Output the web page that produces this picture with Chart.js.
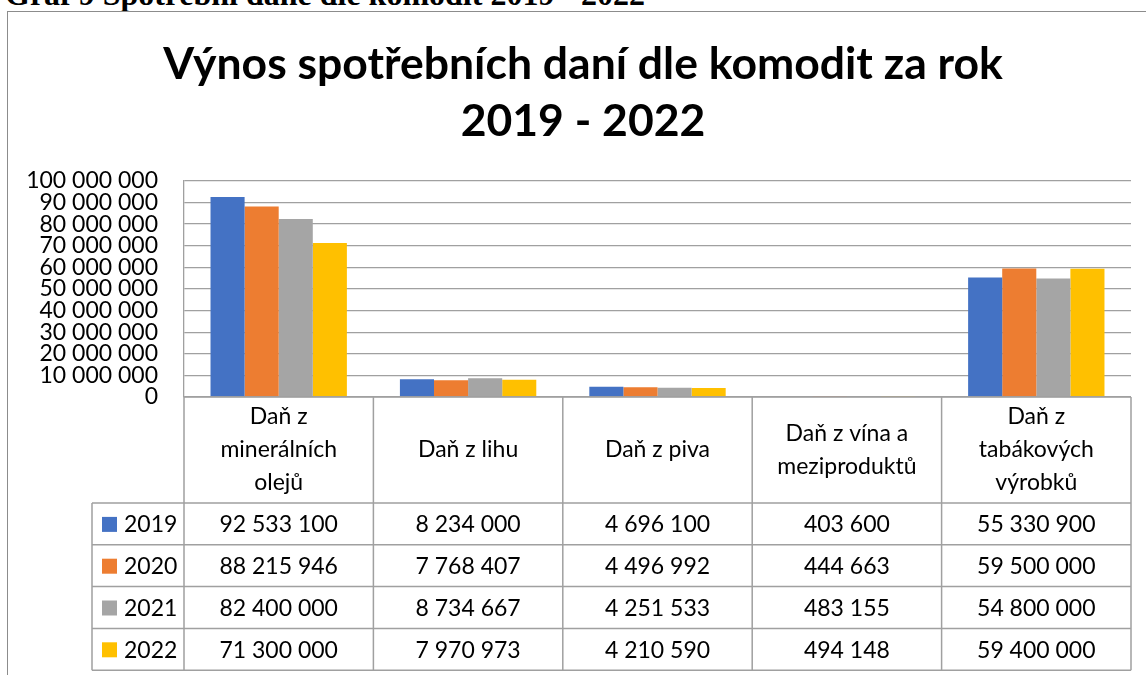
<!DOCTYPE html>
<html lang="cs">
<head>
<meta charset="utf-8">
<script src="https://cdn.jsdelivr.net/npm/chart.js@4.4.1/dist/chart.umd.min.js"></script>
<style>
  html, body { margin: 0; padding: 0; background: #fff; overflow: hidden; }
  body { width: 1146px; height: 675px; position: relative; }
  #cap { position: absolute; left: 5px; top: -22px; font: bold 32px/32px "Liberation Serif", "Times New Roman", serif; white-space: nowrap; color: #000; }
  #frame { position: absolute; left: 7px; top: 11px; width: 1300px; height: 800px; border: 1px solid #8c8c8c; background: #fff; }
  #wrap { position: absolute; left: 0; top: 0; width: 1146px; height: 675px; }
</style>
</head>
<body>
<div id="cap">Graf 9 Spotřební daně dle komodit 2019 - 2022</div>
<div id="frame"></div>
<div id="wrap"><canvas id="c" width="1146" height="675"></canvas></div>
<script>
// ---- data ----
const categories = [
  ['Daň z', 'minerálních', 'olejů'],
  ['Daň z lihu'],
  ['Daň z piva'],
  ['Daň z vína a', 'meziproduktů'],
  ['Daň z', 'tabákových', 'výrobků']
];
const seriesNames = ['2019', '2020', '2021', '2022'];
const values2019 = [92533100, 8234000, 4696100, 403600, 55330900];
const values2020 = [88215946, 7768407, 4496992, 444663, 59500000];
const values2021 = [82400000, 8734667, 4251533, 483155, 54800000];
const values2022 = [71300000, 7970973, 4210590, 494148, 59400000];
const seriesColors = ['#4472C4', '#ED7D31', '#A5A5A5', '#FFC000'];
const yMin = 0, yMax = 100000000, yStep = 10000000;
const chartTitle = ['Výnos spotřebních daní dle komodit za rok', '2019 - 2022'];

const allValues = [values2019, values2020, values2021, values2022];
const fmt = v => String(v).replace(/\B(?=(\d{3})+(?!\d))/g, ' ');

const FONT = 'Lato';
const TXT = 23;

const titleShift = {
  id: 'titleShift',
  afterLayout(chart) {
    if (chart.titleBlock) chart.titleBlock.left += 35;
  }
};

const tablePlugin = {
  id: 'dataTable',
  afterDraw(chart) {
    const ctx = chart.ctx;
    const ca = chart.chartArea;
    const n = categories.length;
    const cw = (ca.right - ca.left) / n;
    const top = ca.bottom;
    const headerH = 106;
    const rowH = 41.8;
    const legLeft = ca.left - 92;
    const bottom = top + headerH + rowH * seriesNames.length;
    ctx.save();
    ctx.strokeStyle = '#a0a0a0';
    ctx.lineWidth = 1.5;
    ctx.beginPath();
    ctx.moveTo(ca.left, top); ctx.lineTo(ca.right, top);
    for (let r = 0; r <= seriesNames.length; r++) {
      const y = top + headerH + r * rowH;
      ctx.moveTo(legLeft, y); ctx.lineTo(ca.right, y);
    }
    for (let i = 0; i <= n; i++) {
      const x = ca.left + i * cw;
      ctx.moveTo(x, top); ctx.lineTo(x, bottom);
    }
    ctx.moveTo(legLeft, top + headerH); ctx.lineTo(legLeft, bottom);
    ctx.stroke();

    ctx.fillStyle = '#000';
    ctx.textAlign = 'center';
    ctx.textBaseline = 'middle';
    ctx.font = TXT + 'px ' + FONT;
    const xs = chart.scales.x;
    categories.forEach((lines, i) => {
      const cx = xs.getPixelForValue(i);
      const lh = 33;
      const cy = top + headerH / 2;
      lines.forEach((t, k) => {
        ctx.fillText(t, cx, cy + (k - (lines.length - 1) / 2) * lh);
      });
    });
    seriesNames.forEach((name, r) => {
      const cy = top + headerH + r * rowH + rowH / 2;
      ctx.fillStyle = seriesColors[r];
      ctx.fillRect(legLeft + 10, cy - 7, 15, 15);
      ctx.fillStyle = '#000';
      ctx.textAlign = 'left';
      ctx.fillText(name, legLeft + 32, cy + 1);
      ctx.textAlign = 'center';
      allValues[r].forEach((v, i) => {
        ctx.fillText(fmt(v), xs.getPixelForValue(i), cy + 1);
      });
    });
    ctx.restore();
  }
};

function build() {
  new Chart(document.getElementById('c'), {
    type: 'bar',
    data: {
      labels: categories,
      datasets: seriesNames.map((s, i) => ({
        label: s,
        data: allValues[i],
        backgroundColor: seriesColors[i],
        borderWidth: 0,
        categoryPercentage: 0.72,
        barPercentage: 1.0
      }))
    },
    options: {
      responsive: false,
      animation: false,
      devicePixelRatio: 1,
      layout: { padding: { left: 0, right: 15, top: 0, bottom: 278 } },
      plugins: {
        legend: { display: false },
        tooltip: { enabled: false },
        title: {
          display: true,
          text: chartTitle,
          color: '#000',
          font: { family: FONT, size: 44.5, weight: 'bold', lineHeight: 1.28 },
          padding: { top: 36, bottom: 31 }
        }
      },
      scales: {
        x: { display: false },
        y: {
          min: yMin, max: yMax,
          afterFit(scale) { scale.width = 184; },
          border: { display: true, color: '#a0a0a0', width: 1.3 },
          grid: { color: '#a0a0a0', lineWidth: 1.3, drawTicks: false },
          ticks: {
            stepSize: yStep,
            autoSkip: false,
            padding: 26,
            color: '#000',
            font: { family: FONT, size: TXT, lineHeight: 1 },
            callback: v => fmt(v)
          }
        }
      }
    },
    plugins: [titleShift, tablePlugin]
  });
}
const fl = [document.fonts.load(TXT + 'px Lato'), document.fonts.load('bold 44.5px Lato')];
Promise.all(fl).then(build, build);
</script>
</body>
</html>
